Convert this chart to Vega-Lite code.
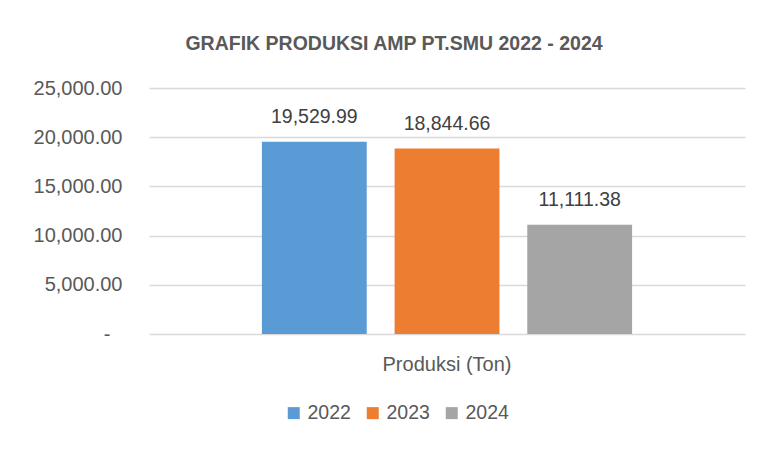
{
  "$schema": "https://vega.github.io/schema/vega-lite/v6.json",
  "width": 596,
  "height": 246,
  "autosize": "none",
  "padding": {"left": 149, "top": 88, "right": 18, "bottom": 116},
  "background": "white",
  "config": {"view": {"stroke": null}, "font": "Liberation Sans"},
  "title": {
    "text": "GRAFIK PRODUKSI AMP PT.SMU 2022 - 2024",
    "fontSize": 19.5,
    "fontWeight": "bold",
    "color": "#595959",
    "font": "Liberation Sans",
    "anchor": "middle",
    "dx": -53,
    "offset": 24
  },
  "data": {
    "values": [
      {"kategori": "Produksi (Ton)", "tahun": "2022", "produksi": 19529.99},
      {"kategori": "Produksi (Ton)", "tahun": "2023", "produksi": 18844.66},
      {"kategori": "Produksi (Ton)", "tahun": "2024", "produksi": 11111.38}
    ]
  },
  "encoding": {
    "x": {
      "field": "kategori",
      "type": "nominal",
      "scale": {"paddingInner": 0, "paddingOuter": 0.305},
      "axis": {"title": null, "labelAngle": 0, "labelFontSize": 20, "labelColor": "#595959", "ticks": false, "domain": false, "labelPadding": 20}
    },
    "xOffset": {"field": "tahun", "type": "nominal", "scale": {"paddingInner": 0.21, "paddingOuter": 0}},
    "y": {
      "field": "produksi",
      "type": "quantitative",
      "scale": {"domain": [0, 25000]},
      "axis": {
        "title": null,
        "values": [0, 5000, 10000, 15000, 20000, 25000],
        "grid": true,
        "gridColor": "#D9D9D9",
        "gridWidth": 1.5,
        "domain": false,
        "ticks": false,
        "labelPadding": {"condition": {"test": "datum.value == 0", "value": 39}, "value": 27},
        "labelFontSize": 20,
        "labelColor": "#595959",
        "labelExpr": "datum.value == 0 ? '-' : format(datum.value, ',.2f')"
      }
    }
  },
  "layer": [
    {
      "mark": {"type": "bar"},
      "encoding": {
        "color": {
          "field": "tahun",
          "type": "nominal",
          "scale": {"range": ["#5B9BD5", "#ED7D31", "#A5A5A5"]},
          "legend": {
            "title": null,
            "orient": "none",
            "legendX": 135,
            "legendY": 315,
            "direction": "horizontal",
            "symbolType": "square",
            "symbolSize": 144,
            "symbolStrokeWidth": 0,
            "labelFontSize": 19.5,
            "labelColor": "#595959",
            "labelOffset": 4,
            "columnPadding": 12
          }
        }
      }
    },
    {
      "mark": {"type": "text", "dy": -19, "baseline": "alphabetic", "fontSize": 19.5, "color": "#404040"},
      "encoding": {"text": {"field": "produksi", "type": "quantitative", "format": ",.2f"}}
    }
  ]
}
